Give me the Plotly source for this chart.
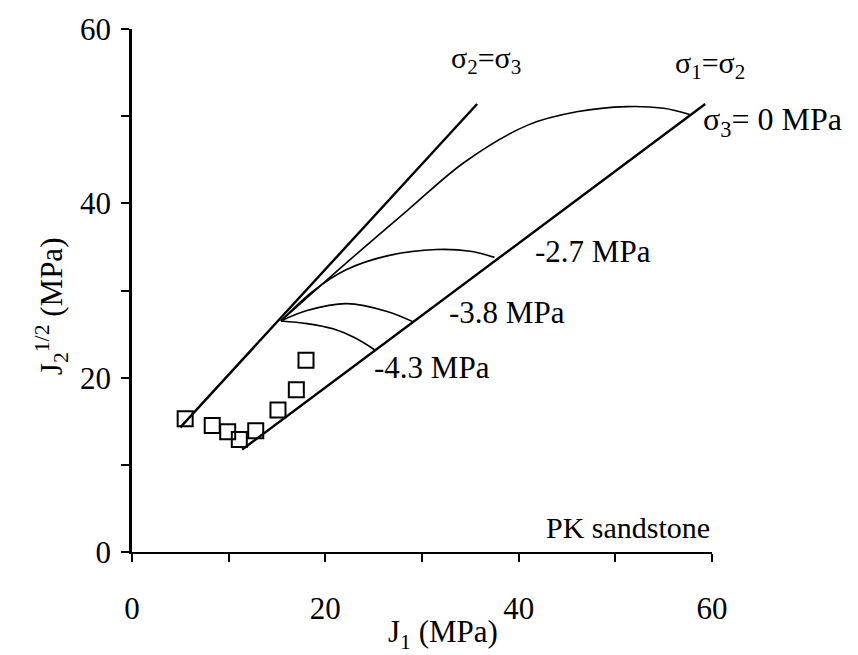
import plotly.graph_objects as go

# Test data: PK sandstone, J1 vs sqrt(J2)
test_j1 = [5.5, 8.3, 9.9, 11.1, 12.8, 15.1, 17.0, 18.0]
test_sqj2 = [15.3, 14.5, 13.8, 12.9, 13.9, 16.3, 18.6, 22.0]

# Compression meridian (sigma2 = sigma3)
comp_j1 = [5.0, 35.7]
comp_sqj2 = [14.3, 51.4]

# Extension meridian (sigma1 = sigma2)
ext_j1 = [11.4, 59.3]
ext_sqj2 = [11.75, 51.4]

# Constant sigma3 failure traces
s3_0_j1 = [15.4, 22.0, 28.5, 34.5, 41.0, 46.0, 51.2, 55.0, 57.7]
s3_0_sqj2 = [26.5, 33.0, 39.2, 44.8, 49.0, 50.5, 51.1, 50.9, 50.2]

s3_27_j1 = [15.4, 18.7, 22.2, 26.5, 31.5, 35.0, 37.5]
s3_27_sqj2 = [26.5, 29.9, 32.4, 34.0, 34.7, 34.5, 33.8]

s3_38_j1 = [15.4, 18.1, 22.2, 26.4, 29.1]
s3_38_sqj2 = [26.5, 27.7, 28.5, 27.6, 26.4]

s3_43_j1 = [15.4, 18.1, 20.8, 23.0, 25.1]
s3_43_sqj2 = [26.5, 26.2, 25.6, 24.6, 23.2]

FONT = "Liberation Serif, Times New Roman, serif"
FS = 31

fig = go.Figure()

for xs, ys in [(s3_0_j1, s3_0_sqj2), (s3_27_j1, s3_27_sqj2),
               (s3_38_j1, s3_38_sqj2), (s3_43_j1, s3_43_sqj2)]:
    fig.add_trace(go.Scatter(x=xs, y=ys, mode="lines",
                             line=dict(color="black", width=1.6, shape="spline", smoothing=1.0),
                             hoverinfo="skip"))

for xs, ys in [(comp_j1, comp_sqj2), (ext_j1, ext_sqj2)]:
    fig.add_trace(go.Scatter(x=xs, y=ys, mode="lines",
                             line=dict(color="black", width=2.4), hoverinfo="skip"))

fig.add_trace(go.Scatter(x=test_j1, y=test_sqj2, mode="markers",
                         marker=dict(symbol="square-open", size=15, color="black",
                                     line=dict(width=2, color="black"))))

# Curve and meridian labels (data coordinates)
labels = [
    (36.6, 56.4, "σ<sub>2</sub>=σ<sub>3</sub>", "center", FS - 1),
    (59.8, 55.9, "σ<sub>1</sub>=σ<sub>2</sub>", "center", FS - 1),
    (58.9, 49.4, "σ<sub>3</sub>= 0 MPa", "left", FS + 1),
    (41.5, 34.5, "-2.7 MPa", "left", FS),
    (32.6, 27.5, "-3.8 MPa", "left", FS),
    (24.8, 21.2, "-4.3 MPa", "left", FS),
]
for x, y, t, xa, fs in labels:
    fig.add_annotation(x=x, y=y, text=t, showarrow=False, xanchor=xa, yanchor="middle",
                       font=dict(family=FONT, size=fs, color="black"))

fig.add_annotation(x=60, y=0, text="PK sandstone", showarrow=False,
                   xanchor="right", yanchor="bottom", yshift=6,
                   font=dict(family=FONT, size=FS - 1, color="black"))

# Axis titles
fig.add_annotation(xref="paper", yref="paper", x=0.536, y=-0.156,
                   text="J<sub>1</sub> (MPa)", showarrow=False,
                   xanchor="center", yanchor="middle",
                   font=dict(family=FONT, size=FS, color="black"))
fig.add_annotation(xref="paper", yref="paper", x=-0.138, y=0.47,
                   text="J<sub>2</sub><sup>1/2</sup> (MPa)", showarrow=False,
                   textangle=-90, xanchor="center", yanchor="middle",
                   font=dict(family=FONT, size=FS, color="black"))

fig.update_layout(
    width=858, height=655,
    margin=dict(l=132, r=146, t=21, b=103),
    paper_bgcolor="white", plot_bgcolor="white",
    showlegend=False,
    font=dict(family=FONT, size=FS, color="black"),
)
fig.update_xaxes(range=[0, 60], tickvals=[0, 10, 20, 30, 40, 50, 60],
                 ticktext=["0", "", "20", "", "40", "", "60"],
                 ticks="outside", ticklen=8, tickwidth=1.5, tickcolor="black",
                 showline=True, linecolor="black", linewidth=2,
                 showgrid=False, zeroline=False, ticklabelstandoff=20,
                 tickfont=dict(family=FONT, size=FS))
fig.update_yaxes(range=[0, 60], tickvals=[0, 10, 20, 30, 40, 50, 60],
                 ticktext=["0", "", "20", "", "40", "", "60"],
                 ticks="outside", ticklen=8, tickwidth=1.5, tickcolor="black",
                 showline=True, linecolor="black", linewidth=2.5,
                 showgrid=False, zeroline=False, ticklabelstandoff=4,
                 tickfont=dict(family=FONT, size=FS))

fig.write_html("out.html")
